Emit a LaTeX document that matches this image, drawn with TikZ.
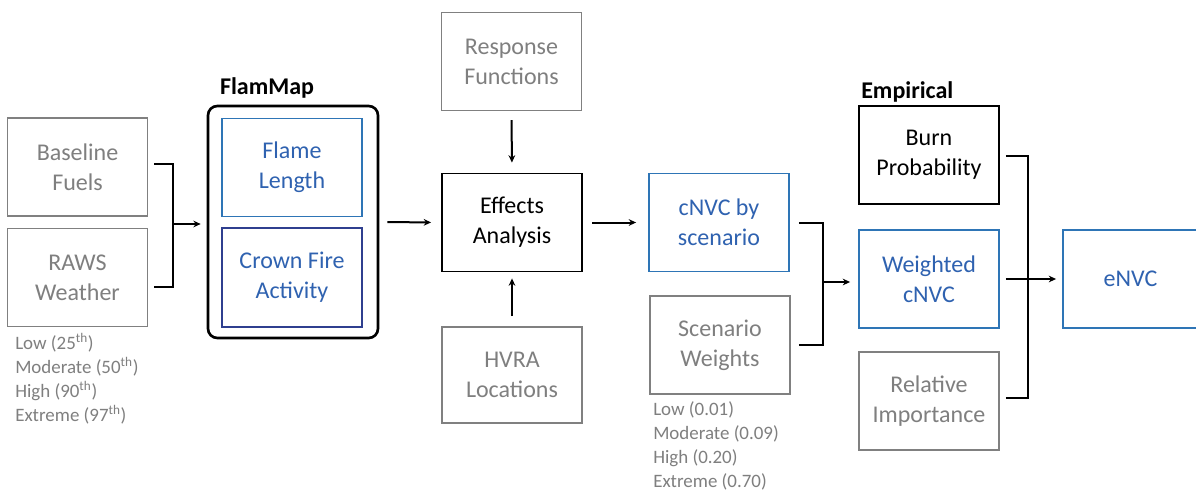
\documentclass[tikz,border=0pt]{standalone}
\usepackage{fontspec}
\setmainfont{Carlito}
\usetikzlibrary{arrows.meta,calc}
\definecolor{bxgray}{HTML}{808080}
\definecolor{txgray}{HTML}{7F7F7F}
\definecolor{bxblue}{HTML}{2E75B6}
\definecolor{txblue}{HTML}{2F62B0}
\definecolor{bxnavy}{HTML}{2F3F8F}
\begin{document}
\begin{tikzpicture}[x=0.75pt,y=-0.75pt,
  base/.style={line width=1.4pt, minimum width=105pt, minimum height=73.5pt, align=center, inner sep=0pt,
    font=\fontsize{18}{22.5}\selectfont},
  graybox/.style={base, draw=bxgray, text=txgray},
  blackbox/.style={base, draw=black, text=black},
  bluebox/.style={base, draw=bxblue, text=txblue},
  navybox/.style={base, draw=bxnavy, text=txblue},
  conn/.style={line width=1.5pt, black},
  arr/.style={conn, -{Stealth[length=5.5pt,width=5pt]}},
  note/.style={anchor=north west, align=left, text=txgray, inner sep=0pt,
    font=\fontsize{14.2}{18}\selectfont},
  head/.style={font=\fontsize{18}{22}\selectfont\bfseries, inner sep=0pt}
]
\useasboundingbox (0,0) rectangle (1196,490);
\fill[white] (0,0) rectangle (1196,490);

% left inputs
\node[graybox] (fuels) at (77.5,167) {Baseline\\Fuels};
\node[graybox] (raws) at (77.5,277.5) {RAWS\\Weather};
\node[note] (wx) at (15,333) {Low (25\textsuperscript{th})\\Moderate (50\textsuperscript{th})\\High (90\textsuperscript{th})\\Extreme (97\textsuperscript{th})};

% FlamMap group
\node[draw=black, line width=2pt, rounded corners=7pt, minimum width=127.5pt, minimum height=174pt, inner sep=0pt] (flammap) at (293,222) {};
\node[head] (flamlabel) at (267,88) {FlamMap};
\node[bluebox, line width=1.2pt] (flame) at (292,167.5) {Flame\\Length};
\node[navybox, line width=1.2pt, minimum height=74.25pt] (crown) at (292,277.5) {Crown Fire\\Activity};

% Effects analysis
\node[graybox] (resp) at (511.5,61.5) {Response\\Functions};
\node[blackbox] (effects) at (512,222.5) {Effects\\Analysis};
\node[graybox, minimum height=72pt] (hvra) at (512,375) {HVRA\\Locations};

% cNVC
\node[bluebox] (cnvc) at (719,222.5) {cNVC by\\scenario};
\node[graybox] (sw) at (720,345) {Scenario\\Weights};
\node[note] (swnote) at (653,401) {Low (0.01)\\Moderate (0.09)\\High (0.20)\\Extreme (0.70)};

% Empirical
\node[head, anchor=west] (emplabel) at (861,92) {Empirical};
\node[blackbox] (burn) at (929,155) {Burn\\Probability};
\node[bluebox] (weighted) at (929,279) {Weighted\\cNVC};
\node[graybox] (relimp) at (929,401) {Relative\\Importance};
\node[bluebox, minimum width=101.25pt] (envc) at (1130.5,279) {eNVC};

% connectors
\coordinate (j1) at (173,224);
\draw[conn] ($(fuels.east)+(6,-3)$) -| (j1);
\draw[conn] ($(raws.east)+(6,9.5)$) -| (j1);
\draw[arr, shorten >=4.5pt] (j1) -- (flammap.west |- j1);

\draw[arr, shorten <=6pt, shorten >=7.5pt] (flammap.east) -- (effects.west);
\draw[arr, shorten <=6.5pt, shorten >=7.5pt] (resp.south) -- (effects.north);
\draw[arr, shorten <=7.5pt, shorten >=4.5pt] (hvra.north) -- (effects.south);
\draw[arr, shorten <=7pt, shorten >=9pt] (effects.east) -- (cnvc.west);

\coordinate (j2) at (823,282);
\draw[conn] ($(cnvc.east)+(9,0)$) -| (j2);
\draw[conn] ($(sw.east)+(8,0)$) -| (j2);
\draw[arr, shorten >=6pt] (j2) -- (weighted.west |- j2);

\coordinate (j3) at (1028,278);
\draw[conn] ($(burn.east)+(6,1)$) -| (j3);
\draw[conn] ($(relimp.east)+(6,-3)$) -| (j3);
\draw[arr, shorten <=4.5pt, shorten >=4.5pt] (weighted.east) -- (envc.west);
\end{tikzpicture}
\end{document}
